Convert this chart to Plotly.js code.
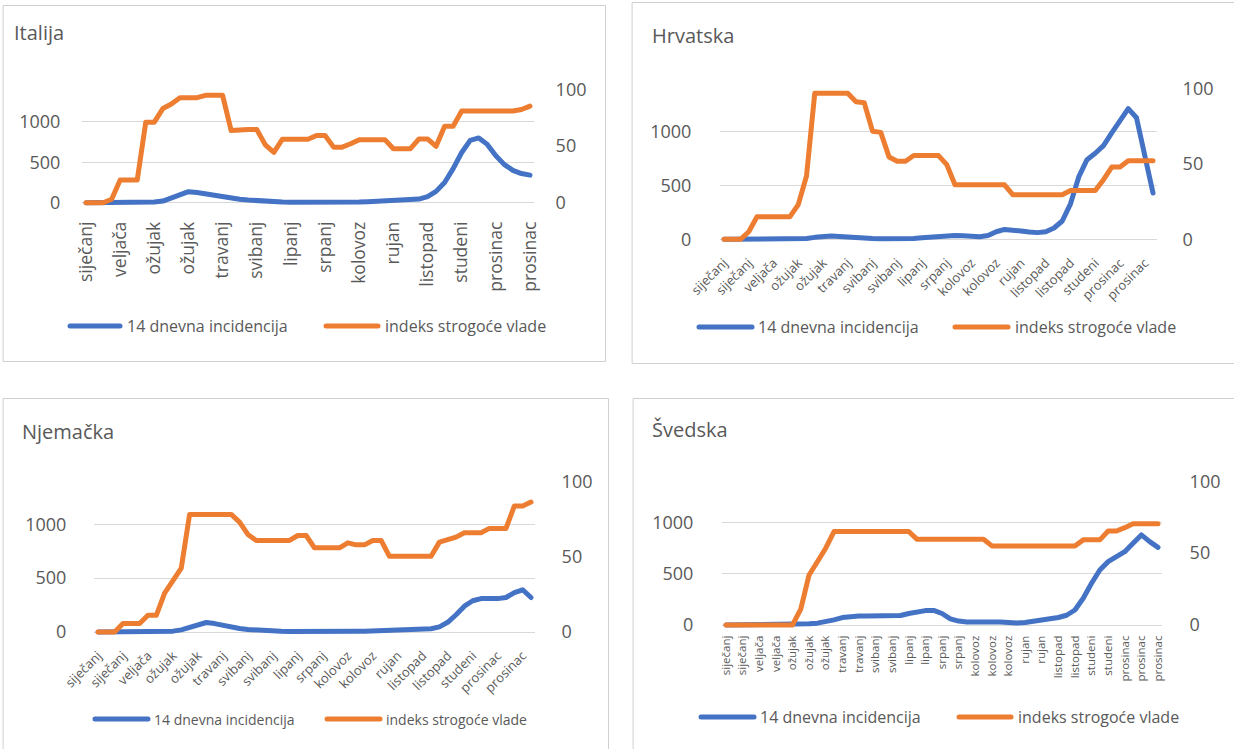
<!DOCTYPE html>
<html>
<head>
<meta charset="utf-8">
<script src="https://cdn.plot.ly/plotly-3.0.1.min.js"></script>
<style>
html,body{margin:0;padding:0;background:#fff;}
#chart{width:1234px;height:749px;}
#chart path.js-line{stroke-linejoin:round !important;stroke-linecap:round !important;}
#chart .shapelayer path{stroke-linecap:round;}
</style>
</head>
<body>
<div id="chart"></div>
<script>
// ---------------- DATA ----------------
const weeks = [1,2,3,4,5,6,7,8,9,10,11,12,13,14,15,16,17,18,19,20,21,22,23,24,25,26,27,28,29,30,31,32,33,34,35,36,37,38,39,40,41,42,43,44,45,46,47,48,49,50,51,52,53];
const countries = ['Italija', 'Hrvatska', 'Njemačka', 'Švedska'];
const seriesNames = ['14 dnevna incidencija', 'indeks strogoće vlade'];

const itIncidence = [0,0,0,0,0,0,0,2,8,20,55,105,136,126,108,88,72,57,43,33,23,16,11,8,6,5,4,4,3,3,4,6,8,12,17,22,26,28,32,45,75,140,250,420,620,770,800,720,580,470,400,360,340];
const itStringency = [0,0,0,3,20,20,20,71,71,83,87,92.6,92.6,92.6,94.7,94.7,94.7,63.6,64.5,64.5,64.5,51,44.4,56,56,56,56,59.2,59.2,49,49,52,55.6,55.6,55.6,55.6,47.6,47.6,47.6,56.2,56.2,49.7,67.5,67.5,80.8,80.8,80.8,80.8,80.8,80.8,80.8,82.2,85.2];

const hrIncidence = [0,0,0,0,0,0,1,1,2,3,8,18,28,30,27,20,14,10,7,5,4,4,5,8,14,22,30,34,35,33,28,24,35,70,92,90,78,68,62,70,105,170,330,580,740,800,870,990,1110,1215,1130,775,430];
const hrStringency = [0,0,0,5,15,15,15,15,15,23,42,97,97,97,97,97,91.3,90.7,71.8,71,54.7,51.8,51.8,55.6,55.6,55.6,55.6,49.6,36.2,36.2,36.2,36.2,36.2,36.2,36.2,29.6,29.6,29.6,29.6,29.6,29.6,29.6,32.4,32.4,32.4,32.4,39.6,48,48,52.2,52.2,52.2,52.2];

const deIncidence = [0,0,0,0,0,0,0,1,3,8,20,45,75,88,78,60,45,33,23,16,11,8,6,5,4,4,4,4,5,5,6,7,8,10,12,15,17,18,20,24,30,48,90,160,240,290,310,312,310,320,365,392,320];
const deStringency = [0,0,0,5.6,5.6,5.6,11.1,11.1,25.8,33.6,42.4,78,78,78,78,78,78,72.9,64.7,60.7,60.7,60.7,60.7,60.7,64,64,55.8,55.8,55.8,55.8,59.1,57.8,57.8,60.7,60.7,50.2,50.2,50.2,50.2,50.2,50.2,59.6,61.3,62.9,65.8,65.8,65.8,68.7,68.7,68.7,83.6,83.6,86.2];

const seIncidence = [0,0,0,0,0,0,0,0,0,8,12,18,28,50,72,82,87,88,88,88,87,92,112,130,140,142,112,60,38,30,26,27,30,28,22,20,24,33,46,60,73,95,146,260,406,536,617,659,714,795,877,812,756];
const seStringency = [0,0,0,0,0,0,0,0,0,11,34.8,44,53.4,65,65,65,65,65,65,65,65,65,65,59.6,59.6,59.6,59.6,59.6,59.6,59.6,59.6,59.6,55,55,55,55,55,55,55,55,55,55,55,59.2,59.2,59.2,65.4,65.4,67.7,70.4,70.4,70.4,70.4];

const itTickWeeks = [1,5,9,13,17,21,25,29,33,37,41,45,49,53];
const itTickLabels = ['siječanj','veljača','ožujak','ožujak','travanj','svibanj','lipanj','srpanj','kolovoz','rujan','listopad','studeni','prosinac','prosinac'];
const hrTickWeeks = [1,4,7,10,13,16,19,22,25,28,31,34,37,40,43,46,49,52];
const hrTickLabels = ['siječanj','siječanj','veljača','ožujak','ožujak','travanj','svibanj','svibanj','lipanj','srpanj','kolovoz','kolovoz','rujan','listopad','listopad','studeni','prosinac','prosinac'];
const deTickWeeks = [1,4,7,10,13,16,19,22,25,28,31,34,37,40,43,46,49,52];
const deTickLabels = ['siječanj','siječanj','veljača','ožujak','ožujak','travanj','svibanj','svibanj','lipanj','srpanj','kolovoz','kolovoz','rujan','listopad','listopad','studeni','prosinac','prosinac'];
const seTickWeeks = [1,3,5,7,9,11,13,15,17,19,21,23,25,27,29,31,33,35,37,39,41,43,45,47,49,51,53];
const seTickLabels = ['siječanj','siječanj','veljača','veljača','ožujak','ožujak','ožujak','travanj','travanj','svibanj','svibanj','lipanj','lipanj','srpanj','srpanj','kolovoz','kolovoz','kolovoz','rujan','rujan','listopad','listopad','studeni','studeni','prosinac','prosinac','prosinac'];

const leftTicks = [0, 500, 1000];
const rightTicks = [0, 50, 100];
const LEFT_MAX = 1400, RIGHT_MAX = 100;

// ---------------- LAYOUT ----------------
const W = 1234, H = 749, PAD = 4;
const BLUE = '#4472C4', ORANGE = '#ED7D31', TXT = '#595959', GRID = '#D9D9D9';
const FONT = '"Open Sans", "Noto Sans", sans-serif';

const panels = [
  {inc: itIncidence, str: itStringency, tv: itTickWeeks, tt: itTickLabels, title: countries[0],
   px: {x0: 86, x1: 530, y0: 202.7, yTop: 89.3}, xFont: 17.5, xAngle: -90, xLen: 7, yFont: 18, lLen: 17, rLen: 17,
   titlePos: [12, 33], leg: {y: 326, b: [70, 120, 125], o: [326, 378, 383], size: 16},
   box: [3.5, 5.5, 605.5, 361.5]},
  {inc: hrIncidence, str: hrStringency, tv: hrTickWeeks, tt: hrTickLabels, title: countries[1],
   px: {x0: 724, x1: 1153, y0: 239.3, yTop: 88.7}, xFont: 13, xAngle: -45, xLen: 6, yFont: 18, lLen: 24, rLen: 21,
   titlePos: [650, 35], leg: {y: 327, b: [699, 752, 756], o: [955, 1008, 1013], size: 16},
   box: [632.5, 2.5, 1240, 363.5]},
  {inc: deIncidence, str: deStringency, tv: deTickWeeks, tt: deTickLabels, title: countries[2],
   px: {x0: 98, x1: 531, y0: 632, yTop: 481.2}, xFont: 13, xAngle: -45, xLen: 6, yFont: 18, lLen: 23, rLen: 22,
   titlePos: [20, 431], leg: {y: 719, b: [95, 148, 152], o: [327, 380, 384], size: 14},
   box: [3.5, 398.5, 608.5, 760]},
  {inc: seIncidence, str: seStringency, tv: seTickWeeks, tt: seTickLabels, title: countries[3],
   px: {x0: 726, x1: 1158, y0: 625, yTop: 481.2}, xFont: 11.5, xAngle: -90, xLen: 1, yFont: 18, lLen: 24, rLen: 23,
   titlePos: [650, 429], leg: {y: 717, b: [701, 754, 758], o: [959, 1011, 1016], size: 16},
   box: [633.5, 398.5, 1240, 760]}
];

const traces = [];
const layout = {
  width: W, height: H,
  margin: {l: 0, r: 0, t: 0, b: 0, pad: 0},
  paper_bgcolor: '#ffffff', plot_bgcolor: 'rgba(0,0,0,0)',
  showlegend: false,
  font: {family: FONT, color: TXT},
  shapes: [], annotations: []
};

const fx = v => v / W;
const fy = v => 1 - v / H;

panels.forEach((p, k) => {
  const xName = k === 0 ? 'xaxis' : 'xaxis' + (k + 1);
  const xRef = k === 0 ? 'x' : 'x' + (k + 1);
  const lNum = 2 * k + 1, rNum = 2 * k + 2;
  const lName = lNum === 1 ? 'yaxis' : 'yaxis' + lNum;
  const lRef = lNum === 1 ? 'y' : 'y' + lNum;
  const rName = 'yaxis' + rNum, rRef = 'y' + rNum;

  const g = p.px;
  const nInt = weeks.length - 1;
  const dx = (g.x1 - g.x0) / nInt;
  const hPx = g.y0 - g.yTop;
  const dyL = hPx / LEFT_MAX, dyR = hPx / RIGHT_MAX;
  const xDom = [fx(g.x0 - PAD), fx(g.x1 + PAD)];
  const yDom = [fy(g.y0 + PAD), fy(g.yTop)];

  layout[xName] = {
    domain: xDom, anchor: lRef,
    range: [weeks[0] - PAD / dx, weeks[weeks.length - 1] + PAD / dx],
    tickmode: 'array', tickvals: p.tv, ticktext: p.tt, tickangle: p.xAngle,
    ticks: 'outside', ticklen: p.xLen, tickcolor: 'rgba(0,0,0,0)',
    tickfont: {family: FONT, size: p.xFont, color: TXT},
    showgrid: false, zeroline: false, showline: false, fixedrange: true
  };
  layout[lName] = {
    domain: yDom, anchor: xRef,
    range: [-PAD / dyL, LEFT_MAX],
    tickmode: 'array', tickvals: leftTicks, ticktext: leftTicks.map(String),
    ticks: 'outside', ticklen: p.lLen, tickcolor: 'rgba(0,0,0,0)',
    tickfont: {family: FONT, size: p.yFont, color: TXT},
    showgrid: true, gridcolor: GRID, gridwidth: 1,
    zeroline: false, showline: false, fixedrange: true
  };
  layout[rName] = {
    overlaying: lRef, side: 'right', anchor: xRef,
    range: [-PAD / dyR, RIGHT_MAX],
    tickmode: 'array', tickvals: rightTicks, ticktext: rightTicks.map(String),
    ticks: 'outside', ticklen: p.rLen, tickcolor: 'rgba(0,0,0,0)',
    tickfont: {family: FONT, size: p.yFont, color: TXT},
    showgrid: false, zeroline: false, showline: false, fixedrange: true
  };

  traces.push({
    type: 'scatter', mode: 'lines', name: seriesNames[0],
    x: weeks, y: p.inc, xaxis: xRef, yaxis: lRef,
    line: {color: BLUE, width: 5}, hoverinfo: 'skip', showlegend: false
  });
  traces.push({
    type: 'scatter', mode: 'lines', name: seriesNames[1],
    x: weeks, y: p.str, xaxis: xRef, yaxis: rRef,
    line: {color: ORANGE, width: 5}, hoverinfo: 'skip', showlegend: false
  });

  // panel frame
  layout.shapes.push({
    type: 'rect', xref: 'paper', yref: 'paper', layer: 'below',
    x0: fx(p.box[0]), x1: fx(p.box[2]), y0: fy(p.box[3]), y1: fy(p.box[1]),
    line: {color: '#D0D0D0', width: 1}, fillcolor: 'rgba(0,0,0,0)'
  });
  // legend swatches
  [[p.leg.b, BLUE, seriesNames[0]], [p.leg.o, ORANGE, seriesNames[1]]].forEach(([pos, col, txt]) => {
    layout.shapes.push({
      type: 'line', xref: 'paper', yref: 'paper',
      x0: fx(pos[0]), x1: fx(pos[1]), y0: fy(p.leg.y), y1: fy(p.leg.y),
      line: {color: col, width: 5}
    });
    layout.annotations.push({
      xref: 'paper', yref: 'paper', x: fx(pos[2]), y: fy(p.leg.y),
      xanchor: 'left', yanchor: 'middle', showarrow: false, text: txt,
      font: {family: FONT, size: p.leg.size, color: TXT}
    });
  });
  // title
  layout.annotations.push({
    xref: 'paper', yref: 'paper', x: fx(p.titlePos[0]), y: fy(p.titlePos[1]),
    xanchor: 'left', yanchor: 'middle', showarrow: false, text: p.title,
    font: {family: FONT, size: 20, color: TXT}
  });
});

Plotly.newPlot('chart', traces, layout, {staticPlot: true, displayModeBar: false});
</script>
</body>
</html>
